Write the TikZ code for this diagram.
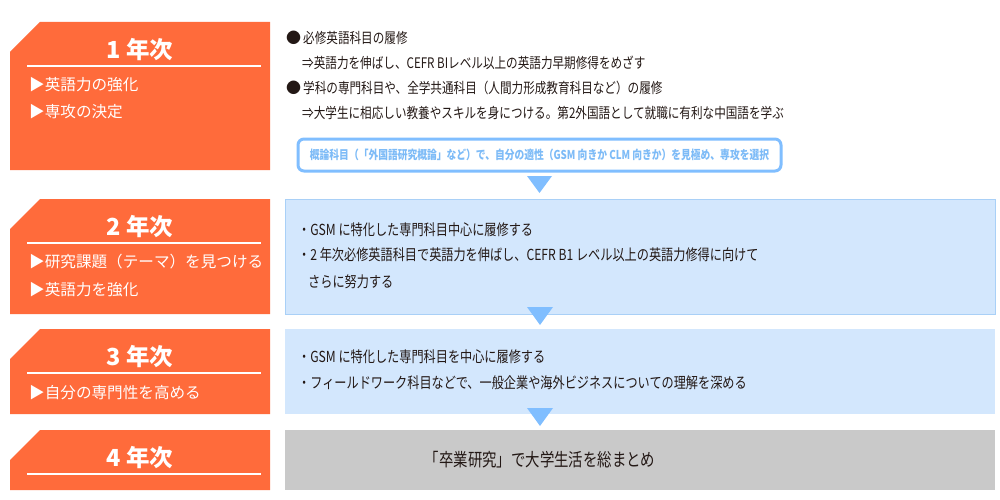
\documentclass[tikz,border=0pt]{standalone}
\usepackage{fontspec}
\setmainfont{Noto Sans CJK JP}
\newfontfamily\jpn[FakeStretch=0.8]{Noto Sans CJK JP}
\usetikzlibrary{positioning}
\definecolor{naranja}{HTML}{FF6B3B}
\definecolor{celeste}{HTML}{D3E7FD}
\definecolor{bordeazul}{HTML}{A9D0F7}
\definecolor{flecha}{HTML}{80BEFF}
\definecolor{azultxt}{HTML}{7DBBF7}
\definecolor{gris}{HTML}{C9C9C9}
\definecolor{texto}{HTML}{231815}
\tikzset{
    titulo/.style={text=white,font=\fontsize{23.5}{23.5}\selectfont\bfseries,inner sep=0pt},
    item/.style={anchor=west,text=white,font=\fontsize{15.6}{15.6}\selectfont,inner sep=0pt},
    linea/.style={anchor=west,text=texto,font=\jpn\fontsize{14.5}{14.5}\selectfont,inner sep=0pt},
    renglon/.style={anchor=west,text=texto,font=\jpn\fontsize{15.2}{15.2}\selectfont,inner sep=0pt},
    marca/.style={fill=flecha,draw=none},
}
\begin{document}
\begin{tikzpicture}[x=1pt,y=-1pt]

    \useasboundingbox (0,0) rectangle (1000,500);

    \def\xa{10}
    \def\xb{270}

    %Cajas derecha
    \fill[celeste,draw=bordeazul,line width=1pt] (285,199) rectangle (995,314);
    \fill[celeste] (285,329) rectangle (995,414);
    \fill[gris] (285,430) rectangle (995,490);

    %Cajas de anio
    \foreach \n/\ya/\yb in {1/22/170,2/199/314,3/329/414,4/430/490}{
        \fill[naranja] (\xa,\ya+30) -- (\xa+30,\ya) -- (\xb,\ya) -- (\xb,\yb) -- (\xa,\yb) -- cycle;
        \node[titulo] (anio\n) at (140,\ya+28) {\n\ 年次};
        \draw[white,line width=1.5pt] (27,\ya+44) -- (261,\ya+44);
    }

    %Items
    \node[item] (i1a) at (29,85) {▶英語力の強化};
    \node[item] (i1b) at (29,112) {▶専攻の決定};
    \node[item] (i2a) at (29,262) {▶研究課題（テーマ）を見つける};
    \node[item] (i2b) at (29,290) {▶英語力を強化};
    \node[item] (i3a) at (29,393) {▶自分の専門性を高める};

    %Anio 1
    \node[anchor=west,inner sep=0pt,text=texto,font=\fontsize{15}{15}\selectfont] (p1) at (286,38) {●};
    \node[linea] (l1) at (303,38) {必修英語科目の履修};
    \node[linea] (l2) at (302,63) {⇒英語力を伸ばし、CEFR BIレベル以上の英語力早期修得をめざす};
    \node[anchor=west,inner sep=0pt,text=texto,font=\fontsize{15}{15}\selectfont] (p2) at (286,88) {●};
    \node[linea] (l3) at (303,88) {学科の専門科目や、全学共通科目（人間力形成教育科目など）の履修};
    \node[linea] (l4) at (302,113) {⇒大学生に相応しい教養やスキルを身につける。第2外国語として就職に有利な中国語を学ぶ};
    \node[draw=flecha,line width=3pt,rounded corners=6pt,fill=white,minimum width=483pt,minimum height=32pt,inner sep=0pt,
        text=azultxt,font=\jpn\fontsize{12.2}{12.2}\selectfont\bfseries] (gairon) at (539.5,155)
        {概論科目（「外国語研究概論」など）で、自分の適性（GSM 向きか CLM 向きか）を見極め、専攻を選択};
    \fill[marca] (527,176) -- (552,176) -- (539.5,193) -- cycle;

    %Anio 2
    \node[renglon] (m1) at (298,230) {・GSM に特化した専門科目中心に履修する};
    \node[renglon] (m2) at (298,255) {・2 年次必修英語科目で英語力を伸ばし、CEFR B1 レベル以上の英語力修得に向けて};
    \node[renglon] (m3) at (308,282) {さらに努力する};
    \fill[marca] (527,307) -- (553,307) -- (540,325) -- cycle;

    %Anio 3
    \node[renglon] (n1) at (298,357) {・GSM に特化した専門科目を中心に履修する};
    \node[renglon] (n2) at (298,383) {・フィールドワーク科目などで、一般企業や海外ビジネスについての理解を深める};
    \fill[marca] (527,408) -- (553,408) -- (540,426) -- cycle;

    %Anio 4
    \node[text=texto,font=\jpn\fontsize{18}{18}\selectfont,inner sep=0pt] (sotsu) at (540,460) {「卒業研究」で大学生活を総まとめ};

\end{tikzpicture}
\end{document}
